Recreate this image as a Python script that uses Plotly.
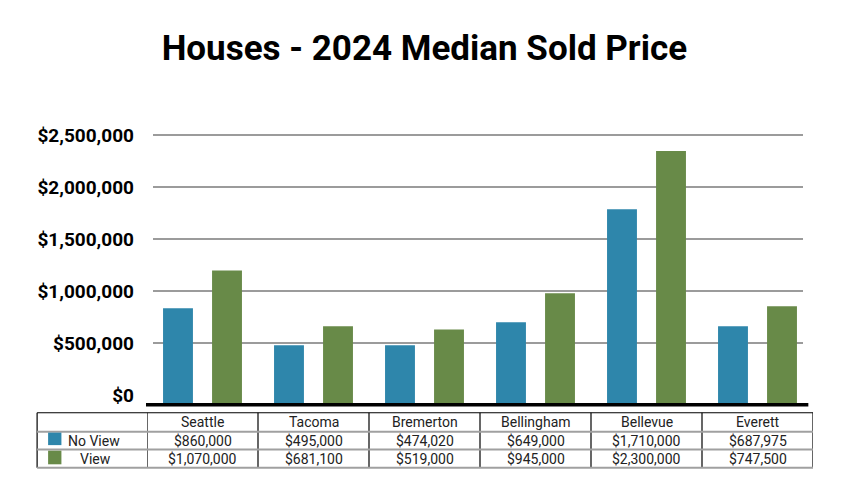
import plotly.graph_objects as go

categories = ["Seattle", "Tacoma", "Bremerton", "Bellingham", "Bellevue", "Everett"]
no_view = [834000, 478000, 478000, 699000, 1787000, 661000]
view = [1197000, 661000, 629000, 978000, 2346000, 853000]
no_view_table = ["$860,000", "$495,000", "$474,020", "$649,000", "$1,710,000", "$687,975"]
view_table = ["$1,070,000", "$681,100", "$519,000", "$945,000", "$2,300,000", "$747,500"]
series_names = ["No View", "View"]
tick_vals = [0, 500000, 1000000, 1500000, 2000000, 2500000]
tick_text = ["$0", "$500,000", "$1,000,000", "$1,500,000", "$2,000,000", "$2,500,000"]

BLUE = "#2e86ab"
GREEN = "#688a48"
Y_MIN = -77000
Y_MAX = 2596000
FONT = "Roboto"

fig = go.Figure()
fig.add_trace(go.Bar(x=categories, y=[v - Y_MIN for v in no_view], base=Y_MIN,
                     name=series_names[0], marker=dict(color=BLUE, line=dict(width=0))))
fig.add_trace(go.Bar(x=categories, y=[v - Y_MIN for v in view], base=Y_MIN,
                     name=series_names[1], marker=dict(color=GREEN, line=dict(width=0))))

shapes = []
# gridlines
for tv in tick_vals[1:]:
    shapes.append(dict(type="line", xref="paper", yref="y", x0=0.009, x1=0.985, y0=tv, y1=tv,
                       line=dict(color="#7a7a7a", width=1.6), layer="below"))
# axis line
shapes.append(dict(type="line", xref="paper", yref="paper", x0=-0.0015, x1=0.993, y0=-0.006, y1=-0.006,
                   line=dict(color="black", width=3.5), layer="above"))

# table geometry (paper y)
rows_y = [-0.035, -0.1035, -0.167, -0.2325]
x_left = -0.165
for i in range(len(categories) + 1):
    shapes.append(dict(type="line", xref="x", yref="paper", x0=i - 0.5, x1=i - 0.5,
                       y0=rows_y[0], y1=rows_y[3], line=dict(color="black", width=1.2)))
shapes.append(dict(type="line", xref="paper", yref="paper", x0=x_left, x1=x_left,
                   y0=rows_y[0], y1=rows_y[3], line=dict(color="black", width=1.2)))
shapes.append(dict(type="line", xref="paper", yref="paper", x0=x_left, x1=1.0,
                   y0=rows_y[0], y1=rows_y[0], line=dict(color="black", width=1.2)))
for ry in rows_y[1:]:
    shapes.append(dict(type="line", xref="paper", yref="paper", x0=x_left, x1=1.0,
                       y0=ry, y1=ry, line=dict(color="#a0a0a0", width=2)))
# legend squares
sq_x0, sq_x1 = -0.1485, -0.1285
shapes.append(dict(type="rect", xref="paper", yref="paper", x0=sq_x0, x1=sq_x1,
                   y0=-0.1515, y1=-0.1065, fillcolor=BLUE, line=dict(width=0)))
shapes.append(dict(type="rect", xref="paper", yref="paper", x0=sq_x0, x1=sq_x1,
                   y0=-0.2205, y1=-0.1715, fillcolor=GREEN, line=dict(width=0)))

annotations = []
tfont = dict(family=FONT, size=14, color="#222222")
for i, c in enumerate(categories):
    annotations.append(dict(x=c, xref="x", y=(rows_y[0] + rows_y[1]) / 2, yref="paper",
                            text=c, showarrow=False, font=tfont, xanchor="center", yanchor="middle"))
    annotations.append(dict(x=c, xref="x", y=(rows_y[1] + rows_y[2]) / 2, yref="paper",
                            text=no_view_table[i], showarrow=False, font=tfont, xanchor="center", yanchor="middle"))
    annotations.append(dict(x=c, xref="x", y=(rows_y[2] + rows_y[3]) / 2, yref="paper",
                            text=view_table[i], showarrow=False, font=tfont, xanchor="center", yanchor="middle"))
annotations.append(dict(x=-0.121, xref="paper", y=(rows_y[1] + rows_y[2]) / 2, yref="paper",
                        text=series_names[0], showarrow=False, font=tfont, xanchor="left", yanchor="middle"))
annotations.append(dict(x=-0.104, xref="paper", y=(rows_y[2] + rows_y[3]) / 2, yref="paper",
                        text=series_names[1], showarrow=False, font=tfont, xanchor="left", yanchor="middle"))

fig.update_layout(
    width=842, height=492,
    margin=dict(l=139, r=37, t=117, b=97),
    paper_bgcolor="white", plot_bgcolor="white",
    title=dict(text="<b>Houses - 2024 Median Sold Price</b>", x=0.4945, xanchor="center",
               y=0.919, yanchor="middle", font=dict(family=FONT, size=35, color="black")),
    showlegend=False,
    barmode="group", bargap=0.117, bargroupgap=0.39,
    xaxis=dict(showticklabels=False, showgrid=False, zeroline=False, showline=False,
               range=[-0.5, len(categories) - 0.5], fixedrange=True),
    yaxis=dict(range=[Y_MIN, Y_MAX], tickvals=tick_vals, ticktext=tick_text, showgrid=False,
               zeroline=False, showline=False, ticks="", ticklabelstandoff=12,
               tickfont=dict(family=FONT, size=19, color="black", weight="bold")),
    shapes=shapes, annotations=annotations,
)

fig.write_html("out.html")
